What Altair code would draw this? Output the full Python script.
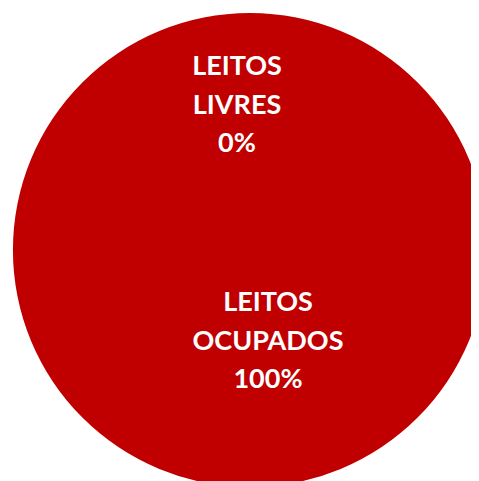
import altair as alt
import pandas as pd

categorias = ["LEITOS LIVRES", "LEITOS OCUPADOS"]
rotulos = ["LEITOS|LIVRES", "LEITOS|OCUPADOS"]
valores = [0, 100]
cores = ["#C00000", "#C00000"]

df = pd.DataFrame({"categoria": categorias, "rotulo": rotulos, "valor": valores})

CX, CY, R = 242, 242, 237

base = alt.Chart(df).transform_joinaggregate(
    total="sum(valor)"
).transform_window(
    acum="sum(valor)", sort=[alt.SortField("categoria")]
).transform_calculate(
    meio="2*PI*(datum.acum - datum.valor/2)/datum.total",
    texto="datum.rotulo + '|' + format(datum.valor/datum.total, '.0%')",
)

pie = alt.Chart(df).mark_arc(outerRadius=R, stroke=None).encode(
    theta=alt.Theta("valor:Q", stack=True),
    color=alt.Color("categoria:N", scale=alt.Scale(domain=categorias, range=cores), legend=None),
    order=alt.Order("categoria:N"),
    x=alt.value(CX),
    y=alt.value(CY),
)

def rotulo_layer(cat, raio, dx, dy):
    return base.transform_filter(alt.datum.categoria == cat).mark_text(
        font="Lato", fontSize=27, fontWeight="bold", color="white",
        lineBreak="|", lineHeight=38.5, align="center", baseline="middle", dx=dx, dy=dy,
    ).encode(
        theta=alt.Theta("meio:Q", scale=None),
        radius=alt.value(raio),
        text="texto:N",
        x=alt.value(CX),
        y=alt.value(CY),
    )

chart = alt.layer(
    pie,
    rotulo_layer("LEITOS LIVRES", 145, -13, -38),
    rotulo_layer("LEITOS OCUPADOS", 91, 18, -38),
).properties(
    width=463, height=473, padding=0, autosize=alt.AutoSizeParams(type="none")
).configure_view(stroke=None)

chart.save("out.html", embed_options={"renderer": "svg", "actions": False})
